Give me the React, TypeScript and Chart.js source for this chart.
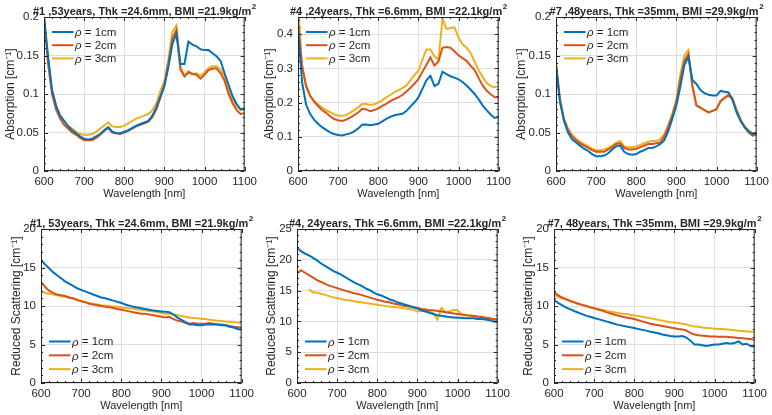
import React, { useEffect, useRef } from 'react';
import { Chart, registerables } from 'chart.js';

Chart.register(...registerables);

// ---------------- data ----------------
const WAVELENGTHS = [
  600, 610, 620, 630, 640, 650, 660, 670, 680, 690,
  700, 710, 720, 730, 740, 750, 760, 770, 780, 790,
  800, 810, 820, 830, 840, 850, 860, 870, 880, 890,
  900, 910, 920, 930, 940, 950, 960, 970, 980, 990,
  1000, 1010, 1020, 1030, 1040, 1050, 1060, 1070, 1080, 1090,
  1100,
];

const LEGEND_LABELS = ['ρ = 1cm', 'ρ = 2cm', 'ρ = 3cm'];
const COLORS = ['#0072BD', '#D95319', '#EDB120'];

const X_TICKS = [600, 700, 800, 900, 1000, 1100];

// #1 absorption
const ABS1_R1 = [0.2, 0.15, 0.105, 0.085, 0.072, 0.065, 0.058, 0.053, 0.049, 0.045,
  0.042, 0.041, 0.042, 0.045, 0.048, 0.053, 0.057, 0.051, 0.049, 0.049,
  0.051, 0.053, 0.056, 0.059, 0.061, 0.063, 0.065, 0.072, 0.083, 0.097,
  0.11, 0.135, 0.165, 0.178, 0.139, 0.139, 0.168, 0.164, 0.162, 0.158,
  0.157, 0.157, 0.153, 0.149, 0.143, 0.127, 0.112, 0.097, 0.087, 0.08,
  0.082];
const ABS1_R2 = [0.2, 0.14, 0.1, 0.08, 0.068, 0.06, 0.055, 0.05, 0.047, 0.043,
  0.04, 0.04, 0.04, 0.043, 0.047, 0.052, 0.056, 0.05, 0.049, 0.048,
  0.05, 0.052, 0.055, 0.058, 0.06, 0.062, 0.064, 0.07, 0.08, 0.095,
  0.112, 0.14, 0.172, 0.183, 0.132, 0.123, 0.128, 0.126, 0.125, 0.12,
  0.125, 0.131, 0.133, 0.133, 0.127, 0.117, 0.1, 0.088, 0.079, 0.074,
  0.075];
const ABS1_R3 = [0.2, 0.145, 0.105, 0.085, 0.072, 0.065, 0.059, 0.055, 0.051, 0.048,
  0.047, 0.047, 0.048, 0.051, 0.055, 0.059, 0.063, 0.058, 0.057, 0.057,
  0.059, 0.062, 0.065, 0.068, 0.07, 0.072, 0.074, 0.079, 0.088, 0.104,
  0.117, 0.145, 0.18, 0.189, 0.135, 0.123, 0.13, 0.126, 0.127, 0.124,
  0.128, 0.134, 0.136, 0.136, 0.132, 0.123, 0.105, 0.093, 0.084, 0.079,
  0.08];

// #4 absorption
const ABS4_R1 = [0.42, 0.26, 0.195, 0.167, 0.15, 0.138, 0.128, 0.12, 0.113, 0.108,
  0.105, 0.104, 0.107, 0.11, 0.116, 0.124, 0.135, 0.136, 0.134, 0.136,
  0.138, 0.145, 0.152, 0.158, 0.163, 0.165, 0.167, 0.175, 0.188, 0.2,
  0.215, 0.24, 0.265, 0.278, 0.248, 0.255, 0.29, 0.283, 0.277, 0.273,
  0.268, 0.26, 0.25, 0.238, 0.225, 0.21, 0.192, 0.178, 0.165, 0.155,
  0.158];
const ABS4_R2 = [0.43, 0.31, 0.25, 0.22, 0.203, 0.19, 0.178, 0.17, 0.16, 0.152,
  0.148, 0.146, 0.15, 0.156, 0.163, 0.171, 0.182, 0.18, 0.175, 0.178,
  0.183, 0.19, 0.196, 0.204, 0.21, 0.215, 0.222, 0.232, 0.243, 0.255,
  0.268, 0.29, 0.31, 0.332, 0.308, 0.32, 0.36, 0.362, 0.36, 0.35,
  0.338, 0.33, 0.322, 0.308, 0.295, 0.272, 0.25, 0.235, 0.224, 0.216,
  0.215];
const ABS4_R3 = [0.5, 0.3, 0.245, 0.22, 0.205, 0.195, 0.185, 0.178, 0.172, 0.166,
  0.162, 0.161, 0.164, 0.17, 0.178, 0.186, 0.196, 0.196, 0.193, 0.195,
  0.2, 0.207, 0.215, 0.222, 0.23, 0.236, 0.242, 0.25, 0.265, 0.28,
  0.293, 0.325, 0.355, 0.355, 0.335, 0.325, 0.445, 0.415, 0.418, 0.42,
  0.39, 0.37, 0.36, 0.345, 0.32, 0.295, 0.275, 0.258, 0.248, 0.245,
  0.248];

// #7 absorption
const ABS7_R1 = [0.138, 0.09, 0.065, 0.05, 0.041, 0.037, 0.033, 0.029, 0.026, 0.022,
  0.019, 0.019, 0.02, 0.023, 0.028, 0.032, 0.033, 0.025, 0.022, 0.021,
  0.022, 0.025, 0.027, 0.03, 0.03, 0.032, 0.035, 0.04, 0.052, 0.068,
  0.085, 0.11, 0.138, 0.148, 0.118, 0.113, 0.105, 0.101, 0.099, 0.098,
  0.098, 0.104, 0.103, 0.102, 0.092, 0.076, 0.065, 0.057, 0.052, 0.048,
  0.05];
const ABS7_R2 = [0.138, 0.09, 0.066, 0.053, 0.045, 0.04, 0.036, 0.033, 0.03, 0.027,
  0.025, 0.025, 0.025, 0.028, 0.031, 0.035, 0.036, 0.03, 0.028, 0.028,
  0.029, 0.031, 0.033, 0.035, 0.035, 0.036, 0.037, 0.045, 0.058, 0.072,
  0.09, 0.12, 0.143, 0.152, 0.11, 0.085, 0.082, 0.079, 0.076, 0.078,
  0.08, 0.091, 0.095, 0.098, 0.093, 0.078, 0.066, 0.057, 0.05, 0.046,
  0.047];
const ABS7_R3 = [0.14, 0.095, 0.068, 0.055, 0.047, 0.042, 0.038, 0.035, 0.032, 0.029,
  0.027, 0.027, 0.028, 0.03, 0.033, 0.037, 0.039, 0.032, 0.031, 0.031,
  0.032, 0.034, 0.036, 0.038, 0.039, 0.039, 0.041, 0.048, 0.06, 0.075,
  0.093, 0.125, 0.15, 0.157, 0.11, 0.085, 0.083, 0.079, 0.076, 0.078,
  0.081, 0.09, 0.095, 0.1, 0.095, 0.08, 0.068, 0.058, 0.053, 0.049,
  0.05];

// #1 reduced scattering
const SCA1_R1 = [16.0, 15.4, 14.9, 14.4, 14.0, 13.6, 13.2, 12.9, 12.6, 12.3,
  12.1, 11.9, 11.7, 11.5, 11.3, 11.1, 11.0, 10.85, 10.7, 10.55,
  10.4, 10.2, 10.05, 9.9, 9.8, 9.7, 9.6, 9.5, 9.4, 9.35,
  9.3, 9.25, 9.2, 8.9, 8.5, 8.2, 7.9, 7.6, 7.6, 7.5,
  7.5, 7.6, 7.6, 7.6, 7.6, 7.5, 7.5, 7.3, 7.2, 7.0,
  6.9];
const SCA1_R2 = [13.1, 12.5, 12.0, 11.7, 11.5, 11.4, 11.3, 11.1, 11.0, 10.8,
  10.6, 10.5, 10.3, 10.2, 10.1, 10.0, 9.9, 9.85, 9.75, 9.6,
  9.5, 9.4, 9.3, 9.2, 9.1, 9.0, 9.0, 8.9, 8.8, 8.7,
  8.6, 8.5, 8.6, 8.3, 8.1, 8.0, 7.8, 7.7, 7.8, 7.7,
  7.7, 7.7, 7.8, 7.7, 7.6, 7.6, 7.5, 7.4, 7.3, 7.25,
  7.2];
const SCA1_R3 = [11.9, 11.7, 11.6, 11.5, 11.4, 11.3, 11.2, 11.1, 10.95, 10.8,
  10.7, 10.5, 10.4, 10.3, 10.2, 10.1, 10.05, 10.0, 9.95, 9.9,
  9.8, 9.75, 9.7, 9.65, 9.55, 9.5, 9.45, 9.35, 9.3, 9.2,
  9.1, 9.0, 8.95, 8.9, 8.8, 8.7, 8.6, 8.5, 8.45, 8.4,
  8.3, 8.3, 8.2, 8.15, 8.1, 8.05, 8.0, 7.95, 7.9, 7.85,
  7.8];

// #4 reduced scattering
const SCA4_R1 = [22.0, 21.4, 21.0, 20.7, 20.3, 19.9, 19.4, 19.0, 18.6, 18.2,
  17.9, 17.6, 17.2, 16.8, 16.4, 16.1, 15.8, 15.4, 15.1, 14.7,
  14.4, 14.2, 13.9, 13.6, 13.4, 13.1, 12.9, 12.7, 12.5, 12.3,
  12.1, 11.8, 11.6, 11.4, 11.2, 11.0, 10.9, 10.8, 10.7, 10.65,
  10.6, 10.6, 10.5, 10.5, 10.5, 10.4, 10.4, 10.3, 10.2, 10.0,
  9.9];
const SCA4_R2 = [17.8, 18.3, 17.9, 17.5, 17.1, 16.7, 16.4, 16.1, 15.8, 15.6,
  15.4, 15.2, 15.0, 14.8, 14.6, 14.5, 14.3, 14.1, 13.9, 13.7,
  13.5, 13.35, 13.2, 13.1, 12.9, 12.8, 12.6, 12.5, 12.4, 12.3,
  12.2, 12.0, 11.9, 11.8, 11.8, 11.7, 11.6, 11.5, 11.4, 11.3,
  11.2, 11.1, 11.0, 10.95, 10.9, 10.8, 10.7, 10.6, 10.5, 10.4,
  10.3];
const SCA4_R3 = [null, null, null, 15.2, 14.7, 14.7, 14.5, 14.3, 14.1, 13.9,
  13.8, 13.65, 13.5, 13.4, 13.3, 13.2, 13.1, 13.0, 12.9, 12.8,
  12.7, 12.6, 12.5, 12.4, 12.35, 12.3, 12.2, 12.1, 12.0, 11.9,
  11.6, 11.7, 12.0, 11.6, 11.3, 10.3, 12.2, 11.5, 11.6, 11.9,
  11.8, 11.2, 11.1, 10.9, 10.8, 10.6, 10.8, 10.5, 10.4, 10.3,
  10.2];

// #7 reduced scattering
const SCA7_R1 = [10.8, 10.4, 10.1, 9.8, 9.6, 9.35, 9.15, 8.95, 8.75, 8.6,
  8.45, 8.3, 8.15, 8.0, 7.85, 7.7, 7.55, 7.45, 7.35, 7.25,
  7.15, 7.0, 6.9, 6.8, 6.65, 6.55, 6.45, 6.3, 6.2, 6.1,
  6.05, 6.05, 6.1, 5.9, 5.5, 5.0, 5.0, 4.9, 4.8, 4.9,
  5.0, 5.0, 5.1, 5.2, 5.1, 5.2, 5.4, 5.0, 5.1, 4.8,
  4.7];
const SCA7_R2 = [11.8, 11.4, 11.1, 10.9, 10.7, 10.5, 10.3, 10.15, 10.0, 9.85,
  9.7, 9.55, 9.4, 9.2, 9.05, 8.9, 8.75, 8.6, 8.5, 8.4,
  8.3, 8.15, 8.0, 7.85, 7.7, 7.6, 7.5, 7.4, 7.3, 7.2,
  7.1, 7.0, 6.95, 6.8, 6.5, 6.3, 6.2, 6.15, 6.1, 6.05,
  6.05, 6.0, 6.0, 6.0, 5.95, 5.9, 5.85, 5.8, 5.75, 5.7,
  5.6];
const SCA7_R3 = [11.5, 11.2, 11.0, 10.8, 10.6, 10.45, 10.3, 10.15, 10.0, 9.8,
  9.7, 9.6, 9.5, 9.4, 9.3, 9.2, 9.1, 9.0, 8.95, 8.85,
  8.78, 8.7, 8.6, 8.5, 8.4, 8.3, 8.2, 8.1, 8.0, 7.9,
  7.85, 7.8, 7.7, 7.6, 7.45, 7.35, 7.3, 7.2, 7.15, 7.1,
  7.05, 7.0, 7.0, 6.95, 6.9, 6.85, 6.8, 6.75, 6.7, 6.65,
  6.65];

const ABS_TITLE = 'Absorption [cm⁻¹]';
const SCA_TITLE = 'Reduced Scattering [cm⁻¹]';
const X_TITLE = 'Wavelength [nm]';

// ---------------- layout / style ----------------
const FONT = '"Liberation Sans", Arial, Helvetica, sans-serif';
const TEXT = '#262626';
const GRID = '#dedede';
const PLOT_W = 201;
const PLOT_H = 154;
const Y_W = 42;
const PAD_L = 2;
const PAD_T = 17;
const PAD_R = 16;
const X_H = 32;

type PanelCfg = {
  title: string;
  yTitle: string;
  yMax: number;
  yStep: number;
  yMinor: number;
  series: (number | null)[][];
  l: number;
  t: number;
  legend: 'top' | 'bottom';
  yTitleOff: number;
};

const PANELS: PanelCfg[] = [
  { title: '#1 ,53years, Thk =24.6mm, BMI =21.9kg/m', yTitle: ABS_TITLE, yMax: 0.2, yStep: 0.05, yMinor: 0.01, series: [ABS1_R1, ABS1_R2, ABS1_R3], l: 44, t: 17, legend: 'top', yTitleOff: 33 },
  { title: '#4 ,24years, Thk =6.6mm, BMI =22.1kg/m', yTitle: ABS_TITLE, yMax: 0.45, yStep: 0.1, yMinor: 0.02, series: [ABS4_R1, ABS4_R2, ABS4_R3], l: 298, t: 17, legend: 'top', yTitleOff: 28.5 },
  { title: '#7 ,48years, Thk =35mm, BMI =29.9kg/m', yTitle: ABS_TITLE, yMax: 0.2, yStep: 0.05, yMinor: 0.01, series: [ABS7_R1, ABS7_R2, ABS7_R3], l: 556, t: 17, legend: 'top', yTitleOff: 34 },
  { title: '#1, 53years, Thk =24.6mm, BMI =21.9kg/m', yTitle: SCA_TITLE, yMax: 20, yStep: 5, yMinor: 1, series: [SCA1_R1, SCA1_R2, SCA1_R3], l: 41, t: 229, legend: 'bottom', yTitleOff: 24 },
  { title: '#4, 24years, Thk =6.6mm, BMI =22.1kg/m', yTitle: SCA_TITLE, yMax: 25, yStep: 5, yMinor: 1, series: [SCA4_R1, SCA4_R2, SCA4_R3], l: 297, t: 229, legend: 'bottom', yTitleOff: 25 },
  { title: '#7, 48years, Thk =35mm, BMI =29.9kg/m', yTitle: SCA_TITLE, yMax: 20, yStep: 5, yMinor: 1, series: [SCA7_R1, SCA7_R2, SCA7_R3], l: 554, t: 229, legend: 'bottom', yTitleOff: 25 },
];

const decorPlugin = {
  id: 'decor',
  afterDatasetsDraw(chart: any, _args: any, opts: any) {
    const { ctx, chartArea: ca } = chart;
    const xs = chart.scales.x;
    const ys = chart.scales.y;
    ctx.save();

    // inward tick marks (major + minor) on all four sides
    ctx.strokeStyle = TEXT;
    ctx.lineWidth = 1;
    ctx.beginPath();
    const xMin = X_TICKS[0];
    const xMax = X_TICKS[X_TICKS.length - 1];
    const nx = Math.round((xMax - xMin) / 20);
    for (let k = 0; k <= nx; k++) {
      const v = xMin + k * 20;
      const len = k % 5 === 0 ? 4 : 2;
      const px = Math.round(xs.getPixelForValue(v)) + 0.5;
      ctx.moveTo(px, ca.bottom);
      ctx.lineTo(px, ca.bottom - len);
      ctx.moveTo(px, ca.top);
      ctx.lineTo(px, ca.top + len);
    }
    const ny = Math.round(opts.yMax / opts.yMinor);
    const per = Math.round(opts.yStep / opts.yMinor);
    for (let k = 0; k <= ny; k++) {
      const v = k * opts.yMinor;
      const len = k % per === 0 ? 4 : 2;
      const py = Math.round(ys.getPixelForValue(v)) + 0.5;
      ctx.moveTo(ca.left, py);
      ctx.lineTo(ca.left + len, py);
      ctx.moveTo(ca.right, py);
      ctx.lineTo(ca.right - len, py);
    }
    ctx.stroke();

    // axes box
    ctx.strokeRect(ca.left + 0.5, ca.top + 0.5, ca.right - ca.left - 1, ca.bottom - ca.top - 1);

    // legend (no box)
    chart.data.datasets.forEach((ds: any, i: number) => {
      const y = opts.legend === 'top' ? ca.top + 15 + i * 13.2 : ca.bottom - 41.5 + i * 13.8;
      ctx.strokeStyle = ds.borderColor;
      ctx.lineWidth = 2;
      ctx.beginPath();
      ctx.moveTo(ca.left + 8, y);
      ctx.lineTo(ca.left + 29.5, y);
      ctx.stroke();
      const label: string = ds.label;
      const sym = label.charAt(0);
      const rest = label.slice(1);
      ctx.fillStyle = TEXT;
      ctx.textBaseline = 'middle';
      ctx.textAlign = 'left';
      ctx.font = `italic 11.5px ${FONT}`;
      const x0 = ca.left + 31;
      ctx.fillText(sym, x0, y + 1);
      const w = ctx.measureText(sym).width;
      ctx.font = `11.5px ${FONT}`;
      ctx.fillText(rest, x0 + w, y + 0.5);
    });

    // title with superscript 2
    const main: string = opts.title;
    ctx.fillStyle = TEXT;
    ctx.textBaseline = 'alphabetic';
    ctx.textAlign = 'left';
    ctx.font = `bold 11px ${FONT}`;
    const wMain = ctx.measureText(main).width;
    ctx.font = `bold 8px ${FONT}`;
    const wSup = ctx.measureText('2').width;
    const cx = (ca.left + ca.right) / 2;
    const sx = cx - (wMain + wSup) / 2;
    const by = ca.top - 2.5;
    ctx.font = `bold 11px ${FONT}`;
    ctx.fillText(main, sx, by);
    ctx.font = `bold 8px ${FONT}`;
    ctx.fillText('2', sx + wMain + 0.5, by - 5.5);

    ctx.restore();
  },
};

function Panel({ cfg }: { cfg: PanelCfg }) {
  const ref = useRef<HTMLCanvasElement | null>(null);
  const cw = PAD_L + Y_W + PLOT_W + PAD_R;
  const chh = PAD_T + PLOT_H + X_H;

  useEffect(() => {
    if (!ref.current) return;
    const titlePad = Math.max(0, Y_W - 7.2 - cfg.yTitleOff);
    const chart = new Chart(ref.current, {
      type: 'line',
      data: {
        datasets: cfg.series.map((vals, i) => ({
          label: LEGEND_LABELS[i],
          data: WAVELENGTHS.map((x, j) => ({ x, y: vals[j] })),
          borderColor: COLORS[i],
          backgroundColor: COLORS[i],
          borderWidth: 2,
          pointRadius: 0,
          tension: 0,
          fill: false,
          spanGaps: false,
        })),
      },
      options: {
        responsive: false,
        animation: false,
        devicePixelRatio: 1,
        events: [],
        layout: { padding: { left: PAD_L, top: PAD_T, right: PAD_R, bottom: 0 } },
        plugins: {
          legend: { display: false },
          tooltip: { enabled: false },
          title: { display: false },
          decor: { title: cfg.title, legend: cfg.legend, yMax: cfg.yMax, yStep: cfg.yStep, yMinor: cfg.yMinor },
        } as any,
        scales: {
          x: {
            type: 'linear',
            min: X_TICKS[0],
            max: X_TICKS[X_TICKS.length - 1],
            afterFit: (s: any) => { s.height = X_H; },
            afterBuildTicks: (s: any) => { s.ticks = X_TICKS.map((v) => ({ value: v })); },
            ticks: {
              color: TEXT,
              font: { family: FONT, size: 11.5 },
              padding: 4,
              maxRotation: 0,
              autoSkip: false,
              callback: (v: any) => String(v),
            },
            grid: { color: GRID, lineWidth: 1, drawTicks: false },
            border: { display: false },
            title: {
              display: true,
              text: X_TITLE,
              color: TEXT,
              font: { family: FONT, size: 11 },
              padding: { top: 0, bottom: 2 },
            },
          },
          y: {
            type: 'linear',
            min: 0,
            max: cfg.yMax,
            afterFit: (s: any) => { s.width = Y_W; },
            ticks: {
              stepSize: cfg.yStep,
              includeBounds: false,
              color: TEXT,
              font: { family: FONT, size: 11.5 },
              padding: 5,
              callback: (v: any) => String(Number(Number(v).toFixed(4))),
            },
            grid: { color: GRID, lineWidth: 1, drawTicks: false },
            border: { display: false },
            title: {
              display: true,
              text: cfg.yTitle,
              color: TEXT,
              font: { family: FONT, size: 12 },
              padding: { top: titlePad, bottom: 0 },
            },
          },
        },
      } as any,
      plugins: [decorPlugin as any],
    });
    return () => chart.destroy();
  }, [cfg]);

  return (
    <canvas
      ref={ref}
      width={cw}
      height={chh}
      style={{
        position: 'absolute',
        left: cfg.l - Y_W - PAD_L,
        top: cfg.t - PAD_T,
        width: cw,
        height: chh,
      }}
    />
  );
}

export default function App() {
  return (
    <div style={{ position: 'absolute', left: 0, top: 0, width: 772, height: 415, background: '#ffffff', overflow: 'hidden' }}>
      {PANELS.map((p, i) => (
        <Panel key={i} cfg={p} />
      ))}
    </div>
  );
}
